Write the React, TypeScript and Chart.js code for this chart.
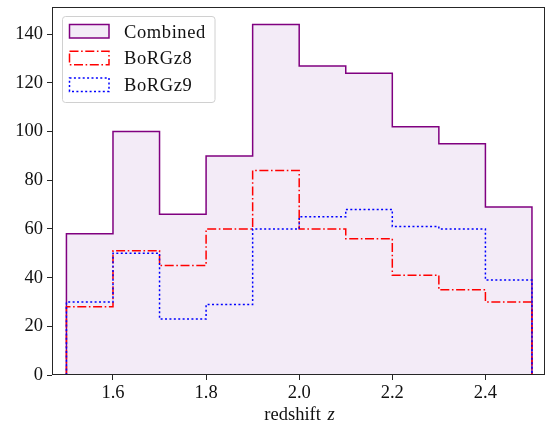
import React, { useEffect, useRef } from "react";
import { Chart, registerables } from "chart.js";

Chart.register(...registerables);

const binEdges = [1.5, 1.6, 1.7, 1.8, 1.9, 2.0, 2.1, 2.2, 2.3, 2.4, 2.5];
const combined = [58, 100, 66, 90, 144, 127, 124, 102, 95, 69];
const borgz8 = [28, 51, 45, 60, 84, 60, 56, 41, 35, 30];
const borgz9 = [30, 50, 23, 29, 60, 65, 68, 61, 60, 39];
const seriesNames = ["Combined", "BoRGz8", "BoRGz9"];
const xTickValues = [1.6, 1.8, 2.0, 2.2, 2.4];
const yTickValues = [0, 20, 40, 60, 80, 100, 120, 140];
const xLabelText = "redshift ";
const xLabelVar = "z";

const FONT = "'Liberation Serif', 'Times New Roman', serif";
const FILL = "rgb(243,235,247)";
const PURPLE = "#800080";
const RED = "#ff0000";
const BLUE = "#0000ff";
const DASHDOT = [9, 2.6, 1.6, 2.6];
const DOTTED = [2, 2.4];

function stepPoints(values: number[]) {
  const pts: { x: number; y: number }[] = [{ x: binEdges[0], y: 0 }];
  values.forEach((v, i) => {
    pts.push({ x: binEdges[i], y: v });
    pts.push({ x: binEdges[i + 1], y: v });
  });
  pts.push({ x: binEdges[binEdges.length - 1], y: 0 });
  return pts;
}

const overlayPlugin = {
  id: "overlay",
  afterDraw(chart: any) {
    const ctx = chart.ctx;
    const a = chart.chartArea;
    ctx.save();
    // frame
    ctx.strokeStyle = "#262626";
    ctx.lineWidth = 1;
    ctx.setLineDash([]);
    ctx.strokeRect(a.left + 0.5, a.top + 0.5, a.right - a.left - 1, a.bottom - a.top - 1);

    // legend box
    const lx = 62.5, ly = 16.5, lw = 152.5, lh = 86;
    ctx.beginPath();
    ctx.roundRect(lx, ly, lw, lh, 3);
    ctx.fillStyle = "rgba(255,255,255,0.8)";
    ctx.fill();
    ctx.strokeStyle = "#d0d0d0";
    ctx.lineWidth = 1;
    ctx.stroke();

    const ds = chart.data.datasets;
    const rowH = 26.7;
    for (let i = 0; i < ds.length; i++) {
      const d = ds[i];
      const sy = 24.5 + i * rowH;
      ctx.save();
      ctx.beginPath();
      ctx.rect(69.5, sy, 39.5, 13.5);
      if (d.fill) {
        ctx.fillStyle = d.backgroundColor;
        ctx.fill();
      }
      ctx.setLineDash(d.borderDash || []);
      ctx.strokeStyle = d.borderColor;
      ctx.lineWidth = 1.5;
      ctx.stroke();
      ctx.restore();
      ctx.fillStyle = "#111";
      ctx.font = `18.5px ${FONT}`;
      ctx.textAlign = "left";
      ctx.textBaseline = "alphabetic";
      (ctx as any).letterSpacing = "0.6px";
      ctx.fillText(d.label, 124, 37.5 + i * rowH);
      (ctx as any).letterSpacing = "0px";
    }

    // x label with italic variable
    ctx.fillStyle = "#111";
    ctx.textBaseline = "alphabetic";
    ctx.textAlign = "left";
    ctx.font = `18.5px ${FONT}`;
    const w1 = ctx.measureText(xLabelText).width;
    ctx.font = `italic 18.5px ${FONT}`;
    const w2 = ctx.measureText(xLabelVar).width;
    const cx = (a.left + a.right) / 2;
    const startX = cx - (w1 + w2) / 2;
    ctx.font = `18.5px ${FONT}`;
    ctx.fillText(xLabelText, startX, 419.5);
    ctx.font = `italic 18.5px ${FONT}`;
    ctx.fillText(xLabelVar, startX + w1 + 2, 419.5);
    ctx.restore();
  },
};

export default function App() {
  const ref = useRef<HTMLCanvasElement>(null);
  useEffect(() => {
    if (!ref.current) return;
    const chart = new Chart(ref.current, {
      type: "line",
      data: {
        datasets: [
          {
            label: seriesNames[0],
            data: stepPoints(combined),
            borderColor: PURPLE,
            backgroundColor: FILL,
            borderWidth: 1.5,
            fill: "origin",
            pointRadius: 0,
            tension: 0,
            order: 3,
            clip: false,
          },
          {
            label: seriesNames[1],
            data: stepPoints(borgz8),
            borderColor: RED,
            backgroundColor: "transparent",
            borderWidth: 1.5,
            borderDash: DASHDOT,
            fill: false,
            pointRadius: 0,
            tension: 0,
            order: 2,
            clip: false,
          },
          {
            label: seriesNames[2],
            data: stepPoints(borgz9),
            borderColor: BLUE,
            backgroundColor: "transparent",
            borderWidth: 1.5,
            borderDash: DOTTED,
            fill: false,
            pointRadius: 0,
            tension: 0,
            order: 1,
            clip: false,
          },
        ] as any,
      },
      options: {
        animation: false,
        responsive: false,
        maintainAspectRatio: false,
        layout: { padding: { top: 7, right: 1, left: 0, bottom: 0 } },
        plugins: {
          legend: { display: false },
          tooltip: { enabled: false },
        },
        scales: {
          x: {
            type: "linear",
            min: 1.469,
            max: 2.528,
            afterBuildTicks: (s: any) => {
              s.ticks = xTickValues.map((v) => ({ value: v }));
            },
            afterFit: (s: any) => {
              s.height = 46;
              s.paddingLeft = 0;
              s.paddingRight = 0;
              s.paddingTop = 0;
              s.paddingBottom = 0;
            },
            ticks: {
              callback: (v: any) => Number(v).toFixed(1),
              font: { family: FONT, size: 18.5 },
              color: "#111",
              padding: 2,
              maxRotation: 0,
              autoSkip: false,
            },
            grid: {
              display: true,
              drawOnChartArea: false,
              drawTicks: true,
              tickLength: 5,
              color: "#262626",
              lineWidth: 1,
            },
            border: { display: false },
          },
          y: {
            type: "linear",
            min: 0,
            max: 151.2,
            afterBuildTicks: (s: any) => {
              s.ticks = yTickValues.map((v) => ({ value: v }));
            },
            afterFit: (s: any) => {
              s.width = 52;
              s.paddingLeft = 0;
              s.paddingRight = 0;
              s.paddingTop = 0;
              s.paddingBottom = 0;
            },
            ticks: {
              callback: (v: any) => String(v),
              font: { family: FONT, size: 18.5 },
              color: "#111",
              padding: 4,
              autoSkip: false,
            },
            grid: {
              display: true,
              drawOnChartArea: false,
              drawTicks: true,
              tickLength: 5,
              color: "#262626",
              lineWidth: 1,
            },
            border: { display: false },
          },
        },
      },
      plugins: [overlayPlugin],
    });
    return () => chart.destroy();
  }, []);
  return (
    <div style={{ position: "fixed", left: 0, top: 0, width: 546, height: 421, background: "#fff" }}>
      <canvas ref={ref} width={546} height={421} style={{ width: 546, height: 421, display: "block" }} />
    </div>
  );
}
